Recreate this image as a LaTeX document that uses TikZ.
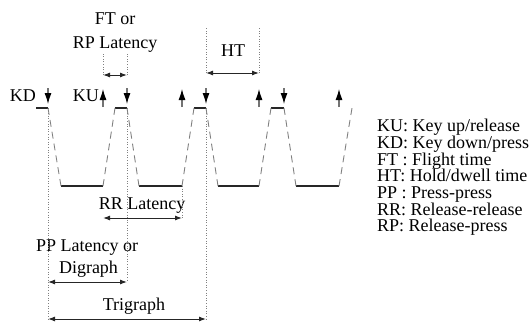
\documentclass[tikz,border=0pt]{standalone}
\usepackage{fontspec}
\setmainfont{Liberation Serif}
\usetikzlibrary{arrows.meta}
\tikzset{
  onda/.style={line width=1.2pt,black!85},
  tratto/.style={line width=0.9pt,gray,dash pattern=on 7pt off 5pt},
  punt/.style={line width=0.6pt,gray,dotted},
  quota/.style={{Latex[length=7pt,width=5pt]}-{Latex[length=7pt,width=5pt]},line width=1pt,black!85},
  freccia/.style={-{Latex[length=11pt,width=7pt,color=black]},line width=1.1pt,black!55},
  testo/.style={font=\fontsize{18}{22}\selectfont,inner sep=0pt},
}
\begin{document}
\begin{tikzpicture}[x=1pt,y=-1pt]
    \useasboundingbox (0,0) rectangle (532,322);
    %tasti premuti (KD) e rilasciati (KU)
    \coordinate (d1) at (48,108); \coordinate (d2) at (127,108);
    \coordinate (d3) at (206,108); \coordinate (d4) at (284,108);
    \coordinate (u1) at (103,108); \coordinate (u2) at (182,108);
    \coordinate (u3) at (259,108); \coordinate (u4) at (339,108);
    %disegno onda: tratti pieni
    \draw[onda] (36,108)--(d1) (61,186)--(103,186) (115,108)--(d2)
    (139,186)--(182,186) (194,108)--(d3) (218,186)--(259,186)
    (271,108)--(d4) (296,186)--(339,186);
    %disegno onda: tratti inclinati
    \draw[tratto] (d1)--(61,186) (103,186)--(115,108) (d2)--(139,186)
    (182,186)--(194,108) (d3)--(218,186) (259,186)--(271,108)
    (d4)--(296,186) (339,186)--(352,108);
    %frecce giu (press)
    \draw[freccia,shorten >=4pt] (d1)++(0,-20)--(d1);
    \draw[freccia,shorten >=4pt] (d2)++(0,-20)--(d2);
    \draw[freccia,shorten >=4pt] (d3)++(0,-20)--(d3);
    \draw[freccia,shorten >=4pt] (d4)++(0,-20)--(d4);
    %frecce su (release)
    \draw[freccia,shorten <=1pt] (u1)--++(0,-19);
    \draw[freccia,shorten <=1pt] (u2)--++(0,-19);
    \draw[freccia,shorten <=1pt] (u3)--++(0,-19);
    \draw[freccia,shorten <=1pt] (u4)--++(0,-19);
    \node[testo,anchor=base east] (kd) at (36,101) {KD};
    \node[testo,anchor=base east] (ku) at (99,101) {KU};
    %%%%%%%%%%%%%%%%%%%%%%%%%%%%%%%%%%%%%%%%%%%%%%%%%%%%%%%%%%%%%%%%%%%%%%%%%%
    %quota FT / RP
    \coordinate (ft1) at (103,75); \coordinate (ft2) at (127,75);
    \draw[punt] (ft1)--++(0,-23) (ft2)--++(0,-23);
    \draw[quota] (ft1)--(ft2);
    \node[testo,anchor=base] (ftlab) at (115,24.5) {FT or};
    \node[testo,anchor=base] (rplab) at (115,48) {RP Latency};
    %quota HT
    \coordinate (ht1) at (206,73); \coordinate (ht2) at (259,73);
    \draw[punt] (ht1)--++(0,-45) (ht2)--++(0,-45);
    \draw[quota] (ht1)--(ht2);
    \node[testo,anchor=base] (htlab) at (233,56) {HT};
    %%%%%%%%%%%%%%%%%%%%%%%%%%%%%%%%%%%%%%%%%%%%%%%%%%%%%%%%%%%%%%%%%%%%%%%%%%
    %quota RR
    \coordinate (rr1) at (103,218); \coordinate (rr2) at (182,218);
    \draw[punt] (182,186)--(rr2);
    \draw[quota] (rr1)--(rr2);
    \node[testo,anchor=base] (rrlab) at (142,209) {RR Latency};
    %quota PP
    \coordinate (pp1) at (48,282); \coordinate (pp2) at (127,282);
    \draw[punt] (d2)--(pp2);
    \draw[quota] (pp1)--(pp2);
    \node[testo,anchor=base] (pplab) at (87,251) {PP Latency or};
    \node[testo,anchor=base] (dilab) at (88.5,273) {Digraph};
    %quota trigraph
    \coordinate (tr1) at (48,319); \coordinate (tr2) at (206,319);
    \draw[punt] (d1)--(tr1) (d3)--(tr2);
    \draw[quota] (tr1)--(tr2);
    \node[testo,anchor=base] (trlab) at (134,310) {Trigraph};
    %%%%%%%%%%%%%%%%%%%%%%%%%%%%%%%%%%%%%%%%%%%%%%%%%%%%%%%%%%%%%%%%%%%%%%%%%%
    %legenda
    \node[testo,anchor=base west] (leg1) at (377,131.7) {KU: Key up/release};
    \node[testo,anchor=base west] (leg2) at (377,148.4) {KD: Key down/press};
    \node[testo,anchor=base west] (leg3) at (377,165.1) {FT : Flight time};
    \node[testo,anchor=base west] (leg4) at (377,181.8) {HT: Hold/dwell time};
    \node[testo,anchor=base west] (leg5) at (377,198.5) {PP : Press-press};
    \node[testo,anchor=base west] (leg6) at (377,215.2) {RR: Release-release};
    \node[testo,anchor=base west] (leg7) at (377,231.9) {RP: Release-press};
\end{tikzpicture}
\end{document}
